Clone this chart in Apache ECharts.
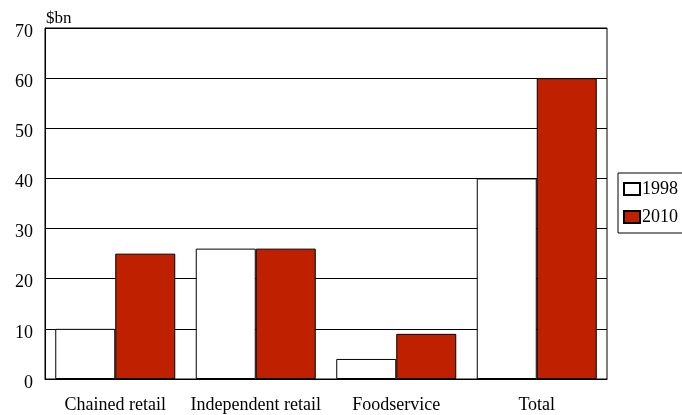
<!DOCTYPE html>
<html><head><meta charset="utf-8">
<script src="https://cdn.jsdelivr.net/npm/echarts@6/dist/echarts.min.js"></script>
<style>html,body{margin:0;padding:0;background:#fff}#c{width:682px;height:415px}</style>
</head><body><div id="c"></div>
<script>
const categories = ['Chained retail', 'Independent retail', 'Foodservice', 'Total'];
const values1998 = [10, 26, 4, 40];
const values2010 = [25, 26, 9, 60];
const seriesNames = ['1998', '2010'];
const yTicks = [0, 10, 20, 30, 40, 50, 60, 70];

const font = 'Liberation Serif';
const chart = echarts.init(document.getElementById('c'), null, {renderer: 'canvas'});
chart.setOption({
  animation: false,
  backgroundColor: '#fff',
  textStyle: {fontFamily: font},
  grid: {left: 45, right: 75, top: 28, bottom: 36, show: true, borderColor: '#000', borderWidth: 1, backgroundColor: 'transparent'},
  legend: {
    left: 618, top: 173, orient: 'vertical',
    data: seriesNames,
    icon: 'rect',
    itemWidth: 16, itemHeight: 12, itemGap: 10,
    padding: [7, 40, 7, 5],
    borderColor: '#000', borderWidth: 1, backgroundColor: '#fff',
    textStyle: {fontFamily: font, fontSize: 18, color: '#000', padding: [0, 0, 0, -3]}
  },
  xAxis: {
    type: 'category', data: categories,
    axisLine: {lineStyle: {color: '#000', width: 1}},
    axisTick: {show: false},
    axisLabel: {fontFamily: font, fontSize: 18, color: '#000', margin: 17, interval: 0}
  },
  yAxis: {
    type: 'value', min: yTicks[0], max: yTicks[yTicks.length - 1], interval: 10,
    name: '$bn', nameLocation: 'end', nameGap: 1,
    nameTextStyle: {fontFamily: font, fontSize: 17, color: '#000', align: 'left', padding: [0, 0, 0, 1]},
    axisLine: {show: true, lineStyle: {color: '#000', width: 1}},
    axisTick: {show: false},
    axisLabel: {
      margin: 12,
      formatter: '{v|{value}}',
      rich: {v: {fontFamily: font, fontSize: 18, color: '#000', padding: [8, 0, 0, 0]}}
    },
    splitLine: {lineStyle: {color: '#000', width: 1}}
  },
  series: [
    {name: seriesNames[0], type: 'bar', data: values1998, barWidth: 60, barGap: '0%',
     itemStyle: {color: '#ffffff', borderColor: '#000', borderWidth: 1}},
    {name: seriesNames[1], type: 'bar', data: values2010, barWidth: 60, barGap: '0%',
     itemStyle: {color: '#bf2000', borderColor: '#000', borderWidth: 1}}
  ]
});
</script></body></html>
